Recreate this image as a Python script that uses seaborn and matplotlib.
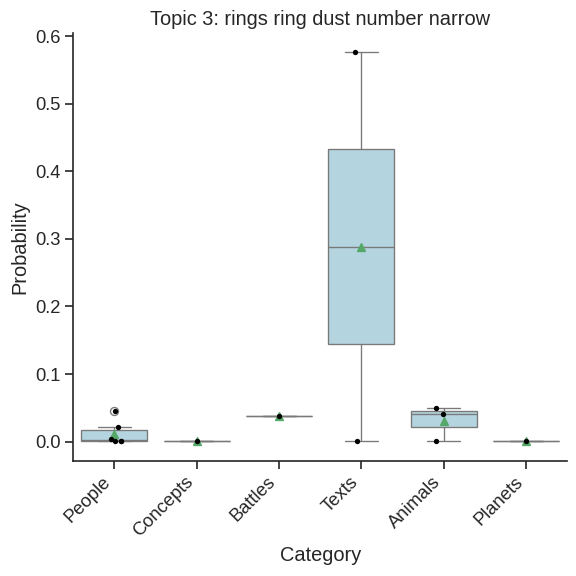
import numpy as np
import pandas as pd
import matplotlib
matplotlib.use("Agg")
import matplotlib.pyplot as plt
import seaborn as sns

# values
categories = ["People", "Concepts", "Battles", "Texts", "Animals", "Planets"]
people = [0.045, 0.022, 0.004, 0.0005, 0.0005, 0.0005]
concepts = [0.0015]
battles = [0.038]
texts = [0.576, 0.001]
animals = [0.050, 0.041, 0.001]
planets = [0.001]

values = [people, concepts, battles, texts, animals, planets]
rows = []
for cat, vals in zip(categories, values):
    for v in vals:
        rows.append({"Category": cat, "Probability": v})
df = pd.DataFrame(rows)

sns.set_theme(style="ticks", context="notebook", font_scale=1.25)
plt.rcParams["font.family"] = ["Liberation Sans", "DejaVu Sans"]
np.random.seed(3)

fig, ax = plt.subplots(figsize=(6, 6), dpi=96)
sns.boxplot(data=df, x="Category", y="Probability", order=categories,
            color="lightblue", showmeans=True, ax=ax)
sns.stripplot(data=df, x="Category", y="Probability", order=categories,
              color="black", size=4, jitter=0.1, ax=ax)

ax.set_title("Topic 3: rings ring dust number narrow")
plt.setp(ax.get_xticklabels(), rotation=45, ha="right")
sns.despine()
plt.subplots_adjust(left=0.127, right=0.985, top=0.943, bottom=0.20)
plt.savefig("out.png", dpi=96)
